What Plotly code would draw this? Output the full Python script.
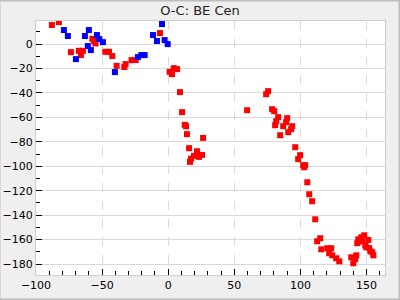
import plotly.graph_objects as go

title_text = "O-C: BE Cen"

blue_x = [-78.9, -75.9, -69.8, -63.0, -60.0, -60.8, -58.5, -53.9, -52.1, -49.4,
          -40.3, -22.9, -20.3, -17.8, -11.5, -8.5, -4.7, -2.7, -0.4]
blue_y = [11.5, 6.6, -12.3, 6.6, 11.5, -1.6, -4.9, 7.4, 4.1, 1.6,
          -22.9, -10.7, -9.0, -9.0, 7.4, 2.5, 16.4, 3.3, 0.0]

red_x = [-88.0, -82.7, -73.6, -67.6, -64.5, -66.0, -57.4, -56.0, -55.0, -47.6,
         -44.8, -42.3, -39.0, -33.2, -32.2, -27.7, -24.6, -6.2,
         4.2, 6.7, 1.1, 2.9, 8.9, 10.5, 12.5, 13.5, 14.2, 26.4, 15.8, 21.8,
         25.6, 19.5, 23.3, 17.3, 16.5,
         75.6, 74.1, 59.7, 78.6, 80.2, 83.2, 90.0, 81.7, 89.2, 80.9, 87.0,
         93.8, 93.0, 90.8, 84.7, 96.1,
         99.8, 98.3, 102.1, 103.6, 102.9, 105.2, 106.7, 108.9, 111.2, 115.0,
         112.7, 115.8, 120.3, 123.3, 121.8, 124.1, 127.1, 129.4,
         138.5, 142.3, 141.5, 140.0, 143.0, 143.8, 146.1, 148.3, 144.6, 146.8,
         151.4, 149.1, 149.8, 152.1, 152.9, 154.4, 155.2]
red_y = [15.6, 18.0, -6.6, -5.5, -5.5, -9.0, 4.3, 2.5, 0.5, -6.3,
         -6.3, -9.8, -17.8, -18.8, -16.4, -13.1, -13.1, 9.0,
         -19.7, -20.5, -22.7, -24.6, -39.3, -55.7, -66.1, -67.2, -73.7, -76.8, -85.2, -87.7,
         -90.7, -91.5, -92.3, -93.7, -96.4,
         -38.5, -41.0, -54.1, -53.3, -54.9, -59.8, -60.6, -63.1, -63.9, -66.4, -67.2,
         -67.2, -69.6, -72.1, -74.6, -84.4,
         -90.9, -94.2, -99.1, -99.1, -100.8, -113.1, -122.9, -128.6, -143.4, -158.9,
         -161.4, -168.0, -167.1, -167.1, -171.2, -172.9, -175.3, -177.8,
         -174.5, -172.9, -176.1, -179.4, -163.0, -159.8, -158.1, -156.5, -161.4, -161.4,
         -160.3, -164.7, -166.3, -167.1, -169.6, -170.4, -172.9]

x_range = [-100, 164]
y_range = [-189, 18.9]

fig = go.Figure()
fig.add_trace(go.Scatter(x=red_x, y=red_y, mode="markers",
                         marker=dict(symbol="square", size=6, color="#ff0000",
                                     line=dict(width=0)),
                         showlegend=False, cliponaxis=True))
fig.add_trace(go.Scatter(x=blue_x, y=blue_y, mode="markers",
                         marker=dict(symbol="square", size=6, color="#0000ff",
                                     line=dict(width=0)),
                         showlegend=False, cliponaxis=True))

fig.update_layout(
    width=400, height=300,
    margin=dict(l=36, r=15, t=21, b=25, autoexpand=False),
    paper_bgcolor="#efefef",
    plot_bgcolor="#ffffff",
    font=dict(family="DejaVu Sans", size=11, color="#000000"),
    title=dict(text=title_text, x=0.5, xanchor="center", y=1 - 10 / 300,
               yanchor="middle", font=dict(family="DejaVu Sans", size=13, color="#222222")),
    shapes=[dict(type="rect", xref="paper", yref="paper",
                 x0=-36.5 / 349, x1=1 + 14.5 / 349,
                 y0=-24.5 / 254, y1=1 + 20.5 / 254,
                 line=dict(color="#bdbdbd", width=2), fillcolor="rgba(0,0,0,0)",
                 layer="below")],
)

fig.update_xaxes(range=x_range, tickmode="linear", tick0=-100, dtick=50,
                 automargin=False,
                 ticks="inside", ticklen=6, tickcolor="#000000", tickwidth=1,
                 minor=dict(ticks="inside", ticklen=4, dtick=10, tick0=-100,
                            tickcolor="#000000", showgrid=False),
                 showgrid=True, gridcolor="#dadada", griddash="dash", gridwidth=1,
                 showline=True, linecolor="#cccccc", linewidth=1, mirror=True,
                 zeroline=False, tickfont=dict(size=11))
fig.update_yaxes(range=y_range, tickmode="linear", tick0=0, dtick=20,
                 automargin=False,
                 ticks="inside", ticklen=6, tickcolor="#000000", tickwidth=1,
                 minor=dict(ticks="inside", ticklen=4, dtick=10, tick0=0,
                            tickcolor="#000000", showgrid=False),
                 showgrid=True, gridcolor="#dadada", gridwidth=1,
                 showline=True, linecolor="#cccccc", linewidth=1, mirror=True,
                 zeroline=False, tickfont=dict(size=11))

fig.write_html("out.html")
